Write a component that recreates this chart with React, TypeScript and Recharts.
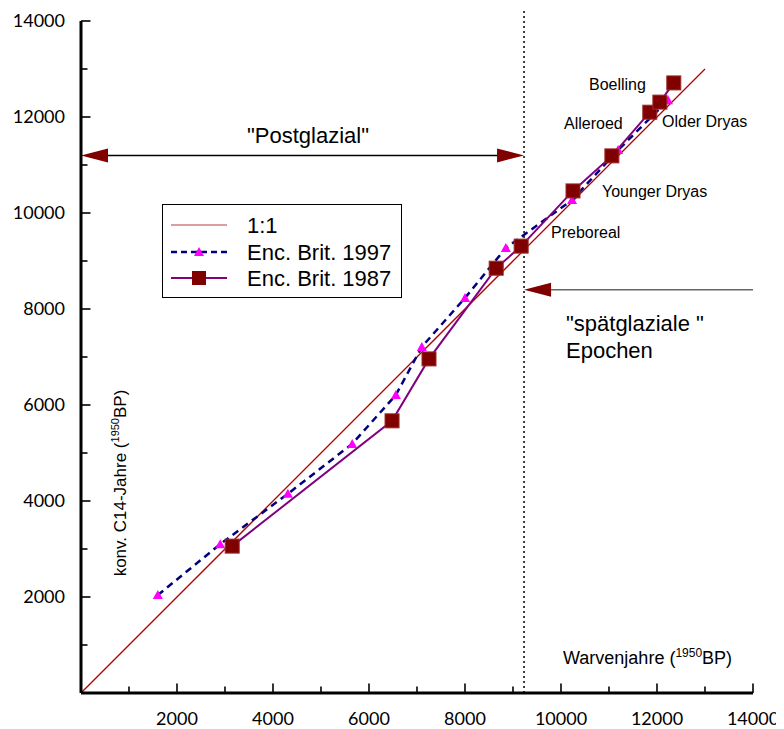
import React from 'react';
import { ComposedChart, Line, XAxis, YAxis, ReferenceLine, ReferenceDot, Legend } from 'recharts';

// ---- data ----
const oneToOneX = [0, 13000];
const oneToOneY = [0, 13000];
const brit1997X = [1600, 2900, 4310, 5650, 6560, 7100, 8000, 8850, 10230, 11190, 12230];
const brit1997Y = [2040, 3100, 4150, 5190, 6210, 7210, 8230, 9270, 10270, 11310, 12350];
const brit1987X = [3150, 6480, 7250, 8650, 9170, 10250, 11060, 11850, 12060, 12350];
const brit1987Y = [3060, 5670, 6960, 8850, 9310, 10460, 11190, 12100, 12310, 12710];
const seriesNames = ['1:1', 'Enc. Brit. 1997', 'Enc. Brit. 1987'];
const axisTicks = [1000, 2000, 3000, 4000, 5000, 6000, 7000, 8000, 9000, 10000, 11000, 12000, 13000, 14000];
const labelledTicks = [2000, 4000, 6000, 8000, 10000, 12000, 14000];

// annotation anchors (data coordinates)
const boundaryX = 9230;
const postglazialY = 11200;
const spaetY = 8400;
const epochLabels = [
  { text: 'Boelling', x: 10583, y: 12688 },
  { text: 'Alleroed', x: 10063, y: 11875 },
  { text: 'Older Dryas', x: 12104, y: 11917 },
  { text: 'Younger Dryas', x: 10854, y: 10458 },
  { text: 'Preboreal', x: 9792, y: 9604 },
];

const zip = (xs: number[], ys: number[]) => xs.map((x, i) => ({ x, y: ys[i] }));
const oneToOne = zip(oneToOneX, oneToOneY);
const brit1997 = zip(brit1997X, brit1997Y);
const brit1987 = zip(brit1987X, brit1987Y);

const SANS = '"Liberation Sans", Arial, sans-serif';
const TICKFONT = 'Lato, "Open Sans", sans-serif';

const YTick = (props: any) => {
  const { x, y, payload } = props;
  const v = payload.value;
  const major = labelledTicks.includes(v);
  return (
    <g>
      <line x1={x} x2={x + (major ? 9.5 : 6.5)} y1={y} y2={y} stroke="#000" strokeWidth={1.6} />
      {major && (
        <text x={x - 16} y={y} dy="0.36em" textAnchor="end" fontFamily={TICKFONT} fontSize={18} fill="#000">
          {v}
        </text>
      )}
    </g>
  );
};

const XTick = (props: any) => {
  const { x, y, payload } = props;
  const v = payload.value;
  const major = labelledTicks.includes(v);
  return (
    <g>
      <line x1={x} x2={x} y1={y} y2={y - (major ? 9.5 : 6.5)} stroke="#000" strokeWidth={1.6} />
      {major && (
        <text x={x} y={y + 26} dy="0.36em" textAnchor="middle" fontFamily={TICKFONT} fontSize={18} fill="#000">
          {v}
        </text>
      )}
    </g>
  );
};

const Triangle = (p: any) => {
  const { cx, cy, index } = p;
  return <path key={`tri${index}`} d={`M${cx},${cy - 5} L${cx + 5},${cy + 4} L${cx - 5},${cy + 4} Z`} fill="#ff00ff" />;
};

const Square = (p: any) => {
  const { cx, cy, index } = p;
  return <rect key={`sq${index}`} x={cx - 7} y={cy - 7} width={14} height={14} fill="#800000" stroke="#9a2a2a" strokeWidth={1} />;
};

const HEAD_L = 27;
const HEAD_H = 7;

const DoubleArrow = (p: any) => {
  const xa = Math.min(p.x1, p.x2);
  const xb = Math.max(p.x1, p.x2);
  const y = p.y1;
  return (
    <g>
      <line x1={xa + HEAD_L - 2} x2={xb - HEAD_L + 2} y1={y} y2={y} stroke="#000" strokeWidth={1.5} />
      <polygon points={`${xa},${y} ${xa + HEAD_L},${y - HEAD_H} ${xa + HEAD_L},${y + HEAD_H}`} fill="#800000" />
      <polygon points={`${xb},${y} ${xb - HEAD_L},${y - HEAD_H} ${xb - HEAD_L},${y + HEAD_H}`} fill="#800000" />
    </g>
  );
};

const LeftArrow = (p: any) => {
  const xa = Math.min(p.x1, p.x2);
  const xb = Math.max(p.x1, p.x2);
  const y = p.y1;
  return (
    <g>
      <line x1={xa + HEAD_L - 2} x2={xb} y1={y} y2={y} stroke="#666" strokeWidth={1.5} />
      <polygon points={`${xa},${y} ${xa + HEAD_L},${y - HEAD_H} ${xa + HEAD_L},${y + HEAD_H}`} fill="#800000" />
    </g>
  );
};

const textShape = (text: string, size: number, anchor: string) => (p: any) => (
  <text x={p.cx} y={p.cy} dy="0.36em" textAnchor={anchor} fontFamily={SANS} fontSize={size} fill="#000">
    {text}
  </text>
);

const XLabelShape = (p: any) => (
  <text x={p.cx} y={p.cy} dy="0.36em" textAnchor="start" fontFamily={SANS} fontSize={18} fill="#000">
    Warvenjahre (
    <tspan fontSize={12} dy={-7}>1950</tspan>
    <tspan dy={7}>BP)</tspan>
  </text>
);

const YLabelShape = (p: any) => (
  <text
    x={p.cx}
    y={p.cy}
    dy="0.36em"
    textAnchor="middle"
    fontFamily={SANS}
    fontSize={17}
    fill="#000"
    transform={`rotate(-90, ${p.cx}, ${p.cy})`}
  >
    konv. C14-Jahre (
    <tspan fontSize={11} dy={-7}>1950</tspan>
    <tspan dy={7}>BP)</tspan>
  </text>
);

const LegendBox = () => (
  <div
    style={{
      width: 240,
      height: 94,
      border: '1.5px solid #000',
      boxSizing: 'border-box',
      background: '#fff',
    }}
  >
    <svg width={237} height={91} style={{ display: 'block' }}>
      <line x1={8} x2={64} y1={20} y2={20} stroke="#b04040" strokeWidth={1.2} />
      <text x={84} y={20} dy="0.36em" fontFamily={SANS} fontSize={22}>{seriesNames[0]}</text>
      <line x1={8} x2={64} y1={47} y2={47} stroke="#000080" strokeWidth={2.5} strokeDasharray="6 4" />
      <path d="M36,42 L41,51 L31,51 Z" fill="#ff00ff" />
      <text x={84} y={47} dy="0.36em" fontFamily={SANS} fontSize={22}>{seriesNames[1]}</text>
      <line x1={8} x2={64} y1={73} y2={73} stroke="#800080" strokeWidth={2} />
      <rect x={29} y={66} width={14} height={14} fill="#800000" />
      <text x={84} y={73} dy="0.36em" fontFamily={SANS} fontSize={22}>{seriesNames[2]}</text>
    </svg>
  </div>
);

export default function App() {
  return (
    <ComposedChart width={776} height={721} margin={{ top: 13, right: 31, bottom: 0, left: 0 }}>
      <XAxis
        dataKey="x"
        type="number"
        domain={[0, 14000]}
        ticks={axisTicks}
        interval={0}
        height={36}
        tickSize={0}
        tickMargin={0}
        tickLine={false}
        tick={<XTick />}
        axisLine={{ stroke: '#000', strokeWidth: 3 }}
        allowDataOverflow
      />
      <YAxis
        dataKey="y"
        type="number"
        domain={[0, 14000]}
        ticks={axisTicks}
        interval={0}
        width={73}
        tickSize={0}
        tickMargin={0}
        tickLine={false}
        tick={<YTick />}
        axisLine={{ stroke: '#000', strokeWidth: 3 }}
        allowDataOverflow
      />
      <Legend
        layout="vertical"
        align="center"
        verticalAlign="middle"
        content={<LegendBox />}
        wrapperStyle={{ left: 154, top: 196, width: 240, height: 94 }}
      />
      <ReferenceLine
        segment={[{ x: boundaryX, y: 0 }, { x: boundaryX, y: 14350 }]}
        ifOverflow="visible"
        stroke="#000"
        strokeWidth={1.5}
        strokeDasharray="2 3"
      />
      <ReferenceLine
        segment={[{ x: 0, y: postglazialY }, { x: boundaryX, y: postglazialY }]}
        ifOverflow="visible"
        shape={DoubleArrow}
      />
      <ReferenceLine
        segment={[{ x: boundaryX, y: spaetY }, { x: 14000, y: spaetY }]}
        ifOverflow="visible"
        shape={LeftArrow}
      />
      <Line
        data={oneToOne}
        dataKey="y"
        name={seriesNames[0]}
        stroke="#b00000"
        strokeWidth={1.3}
        dot={false}
        activeDot={false}
        isAnimationActive={false}
      />
      <Line
        data={brit1997}
        dataKey="y"
        name={seriesNames[1]}
        stroke="#000080"
        strokeWidth={2.5}
        strokeDasharray="7 5"
        dot={Triangle}
        activeDot={false}
        isAnimationActive={false}
      />
      <Line
        data={brit1987}
        dataKey="y"
        name={seriesNames[2]}
        stroke="#800080"
        strokeWidth={2}
        dot={Square}
        activeDot={false}
        isAnimationActive={false}
      />
      {epochLabels.map((l) => (
        <ReferenceDot key={l.text} x={l.x} y={l.y} r={0} ifOverflow="visible" shape={textShape(l.text, 16, 'start')} />
      ))}
      <ReferenceDot x={4729} y={11625} r={0} ifOverflow="visible" shape={textShape('"Postglazial"', 22, 'middle')} />
      <ReferenceDot x={10104} y={7708} r={0} ifOverflow="visible" shape={textShape('"spätglaziale "', 22, 'start')} />
      <ReferenceDot x={10104} y={7146} r={0} ifOverflow="visible" shape={textShape('Epochen', 22, 'start')} />
      <ReferenceDot x={10042} y={729} r={0} ifOverflow="visible" shape={XLabelShape} />
      <ReferenceDot x={812} y={4375} r={0} ifOverflow="visible" shape={YLabelShape} />
    </ComposedChart>
  );
}
